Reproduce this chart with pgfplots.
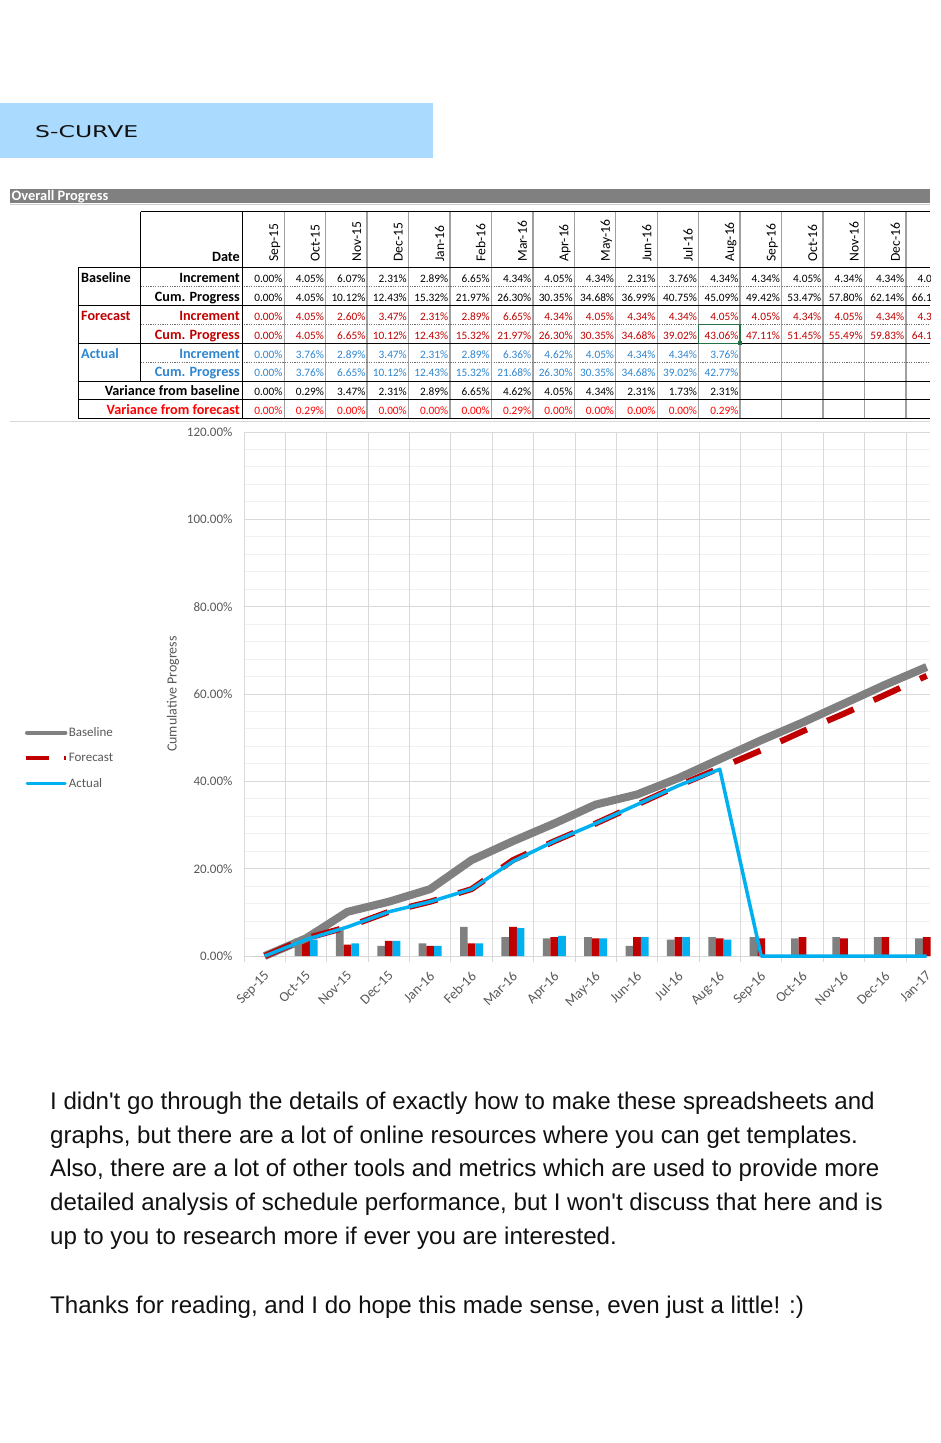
\documentclass[border=0pt]{standalone}
\usepackage{fontspec}
\usepackage{graphicx}
\usepackage{pgfplots}
\usepackage{pgfplotstable}
\pgfplotsset{compat=1.18}
\setmainfont{Carlito}
\newfontfamily\parafont{Liberation Sans}
\newfontfamily\titlefont{DejaVu Sans}
\definecolor{cHead}{HTML}{AADAFD}
\definecolor{cBar}{HTML}{808080}
\definecolor{cBarLine}{HTML}{CFCFCF}
\definecolor{cCol}{HTML}{A0A0A0}
\definecolor{cDot}{HTML}{707070}
\definecolor{cFc}{HTML}{C00000}
\definecolor{cAc}{HTML}{2E86D0}
\definecolor{cVf}{HTML}{FF0000}
\definecolor{cSel}{HTML}{217346}
\definecolor{cGray}{HTML}{808080}
\definecolor{cRed}{HTML}{C00000}
\definecolor{cBlue}{HTML}{00B0F0}
\definecolor{cD9}{HTML}{D9D9D9}
\definecolor{cF2}{HTML}{F0F0F0}
\definecolor{c59}{HTML}{595959}
\definecolor{cTxt}{HTML}{111111}

\pgfplotstableread{
idx binc bcum finc fcum
0 0.00 0.00 0.00 0.00
1 4.05 4.05 4.05 4.05
2 6.07 10.12 2.60 6.65
3 2.31 12.43 3.47 10.12
4 2.89 15.32 2.31 12.43
5 6.65 21.97 2.89 15.32
6 4.34 26.30 6.65 21.97
7 4.05 30.35 4.34 26.30
8 4.34 34.68 4.05 30.35
9 2.31 36.99 4.34 34.68
10 3.76 40.75 4.34 39.02
11 4.34 45.09 4.05 43.06
12 4.34 49.42 4.05 47.11
13 4.05 53.47 4.34 51.45
14 4.34 57.80 4.05 55.49
15 4.34 62.14 4.34 59.83
16 4.05 66.19 4.34 64.17
}\plantable

\pgfplotstableread{
idx ainc acum
0 0.00 0.00
1 3.76 3.76
2 2.89 6.65
3 3.47 10.12
4 2.31 12.43
5 2.89 15.32
6 6.36 21.68
7 4.62 26.30
8 4.05 30.35
9 4.34 34.68
10 4.34 39.02
11 3.76 42.77
12 nan 0
13 nan 0
14 nan 0
15 nan 0
16 nan 0
}\actualtable

\newcommand\dfont{\fontsize{11.3}{11.3}\selectfont}
\newcommand\lfont{\bfseries\fontsize{14.2}{14.2}\selectfont}

\begin{document}
\begin{tikzpicture}[x=1pt,y=1pt]
\useasboundingbox (0,0) rectangle (940,-1443);
\fill[white] (0,0) rectangle (940,-1443);

% header box
\fill[cHead] (0,-103) rectangle (433,-158);
\node[anchor=base west, inner sep=0, text=cTxt] at (35,-137.7) {\resizebox{103pt}{12pt}{\titlefont S-CURVE}};

\begin{scope}
\clip (0,0) rectangle (930,-1443);
% title bar
\fill[cBar] (10,-189) rectangle (930,-203.3);
\draw[cBarLine, line width=1.2] (10,-204.6) -- (930,-204.6);
\node[anchor=base west, inner sep=0, text=white, font=\bfseries\fontsize{14.4}{14.4}\selectfont] at (11.5,-200) {Overall Progress};

% column lines
\foreach \k in {1,...,17}
  \draw[cCol, line width=1.3] ({242.7+41.45*\k},-211.7) -- ({242.7+41.45*\k},-418.4);
% dotted lines
\foreach \yy in {286.3,324.3,362.3}
  \draw[cDot, line width=0.8, dash pattern=on 1.2pt off 1.2pt] (140.7,-\yy) -- (930,-\yy);
% solid lines
\draw[black, line width=1] (140.7,-211.7) -- (930,-211.7);
\draw[black, line width=1.6] (78.3,-267.3) -- (930,-267.3);
\foreach \yy in {305.3,343.3,381.0,399.7,418.4}
  \draw[black, line width=1] (78.3,-\yy) -- (930,-\yy);
\draw[black, line width=1] (140.7,-211.7) -- (140.7,-381.0);
\draw[black, line width=1] (78.3,-267.3) -- (78.3,-418.4);
\draw[black, line width=1] (242.7,-211.7) -- (242.7,-418.4);

% labels
\node[anchor=base east, inner sep=0, font=\lfont] at (240,-261.7) {Date};
\node[anchor=base west, inner sep=0, font=\lfont] at (81,-282.0) {Baseline};
\node[anchor=base west, inner sep=0, font=\lfont, text=cFc] at (81,-320.0) {Forecast};
\node[anchor=base west, inner sep=0, font=\lfont, text=cAc] at (81,-358.0) {Actual};
\node[anchor=base east, inner sep=0, font=\lfont] at (240,-282.0) {Increment};
\node[anchor=base east, inner sep=0, font=\lfont] at (240,-301.0) {Cum. Progress};
\node[anchor=base east, inner sep=0, font=\lfont, text=cFc] at (240,-320.0) {Increment};
\node[anchor=base east, inner sep=0, font=\lfont, text=cFc] at (240,-339.0) {Cum. Progress};
\node[anchor=base east, inner sep=0, font=\lfont, text=cAc] at (240,-358.0) {Increment};
\node[anchor=base east, inner sep=0, font=\lfont, text=cAc] at (240,-376.7) {Cum. Progress};
\node[anchor=base east, inner sep=0, font=\lfont] at (240,-395.4) {Variance from baseline};
\node[anchor=base east, inner sep=0, font=\lfont, text=cVf] at (240,-414.1) {Variance from forecast};

% header dates
\foreach \d [count=\k from 0] in {Sep-15,Oct-15,Nov-15,Dec-15,Jan-16,Feb-16,Mar-16,Apr-16,May-16,Jun-16,Jul-16,Aug-16,Sep-16,Oct-16,Nov-16,Dec-16}
  \node[anchor=base west, inner sep=0, rotate=90, font=\fontsize{13.6}{13.6}\selectfont] at ({242.7+41.45*\k+35.5},-261.7) {\d};

% data rows
\foreach \v [count=\k from 1] in {0.00,4.05,6.07,2.31,2.89,6.65,4.34,4.05,4.34,2.31,3.76,4.34,4.34,4.05,4.34,4.34,4.05}
  \node[anchor=base east, inner sep=0, font=\dfont] at ({242.7+41.45*\k-1.5},-282.0) {\v\%};
\foreach \v [count=\k from 1] in {0.00,4.05,10.12,12.43,15.32,21.97,26.30,30.35,34.68,36.99,40.75,45.09,49.42,53.47,57.80,62.14,66.19}
  \node[anchor=base east, inner sep=0, font=\dfont] at ({242.7+41.45*\k-1.5},-301.0) {\v\%};
\foreach \v [count=\k from 1] in {0.00,4.05,2.60,3.47,2.31,2.89,6.65,4.34,4.05,4.34,4.34,4.05,4.05,4.34,4.05,4.34,4.34}
  \node[anchor=base east, inner sep=0, font=\dfont, text=cFc] at ({242.7+41.45*\k-1.5},-320.0) {\v\%};
\foreach \v [count=\k from 1] in {0.00,4.05,6.65,10.12,12.43,15.32,21.97,26.30,30.35,34.68,39.02,43.06,47.11,51.45,55.49,59.83,64.17}
  \node[anchor=base east, inner sep=0, font=\dfont, text=cFc] at ({242.7+41.45*\k-1.5},-339.0) {\v\%};
\foreach \v [count=\k from 1] in {0.00,3.76,2.89,3.47,2.31,2.89,6.36,4.62,4.05,4.34,4.34,3.76}
  \node[anchor=base east, inner sep=0, font=\dfont, text=cAc] at ({242.7+41.45*\k-1.5},-358.0) {\v\%};
\foreach \v [count=\k from 1] in {0.00,3.76,6.65,10.12,12.43,15.32,21.68,26.30,30.35,34.68,39.02,42.77}
  \node[anchor=base east, inner sep=0, font=\dfont, text=cAc] at ({242.7+41.45*\k-1.5},-376.7) {\v\%};
\foreach \v [count=\k from 1] in {0.00,0.29,3.47,2.31,2.89,6.65,4.62,4.05,4.34,2.31,1.73,2.31}
  \node[anchor=base east, inner sep=0, font=\dfont] at ({242.7+41.45*\k-1.5},-395.4) {\v\%};
\foreach \v [count=\k from 1] in {0.00,0.29,0.00,0.00,0.00,0.00,0.29,0.00,0.00,0.00,0.00,0.29}
  \node[anchor=base east, inner sep=0, font=\dfont, text=cVf] at ({242.7+41.45*\k-1.5},-414.1) {\v\%};

% selection box
\draw[cSel, line width=1.4] (698.65,-324.3) rectangle (740.1,-343.3);
\fill[cSel] (738.1,-341.3) rectangle (742.1,-345.3);

% separator above chart
\draw[cD9, line width=1] (10,-421) -- (930,-421);
\end{scope}

% chart
\begin{axis}[
  at={(244pt,-956pt)}, anchor=south west,
  width=686pt, height=524pt, scale only axis,
  xmin=-0.5, xmax=16.08, ymin=0, ymax=120,
  clip=false,
  axis line style={draw=none},
  major tick length=0pt, minor tick length=0pt,
  xtick={0,...,16},
  xticklabels={Sep-15,Oct-15,Nov-15,Dec-15,Jan-16,Feb-16,Mar-16,Apr-16,May-16,Jun-16,Jul-16,Aug-16,Sep-16,Oct-16,Nov-16,Dec-16,Jan-17},
  xtick pos=bottom, ytick pos=left,
  extra x ticks={-0.5,0.5,...,15.5},
  extra x tick labels={},
  extra x tick style={grid=major, major tick length=6pt, tick align=outside, tick style={draw=cD9, line width=1pt}},
  ytick={0,20,...,120},
  yticklabels={0.00\%,20.00\%,40.00\%,60.00\%,80.00\%,100.00\%,120.00\%},
  minor y tick num=4,
  ymajorgrids, yminorgrids,
  major grid style={draw=cD9, line width=1pt},
  minor grid style={draw=cF2, line width=1pt},
  tick label style={font=\fontsize{13}{13}\selectfont, text=c59},
  yticklabel style={anchor=east, xshift=-8pt},
  xticklabel style={rotate=45, anchor=north east, inner sep=1pt, xshift=-10pt, yshift=-8pt, font=\fontsize{14}{14}\selectfont},
  ylabel={Cumulative Progress},
  ylabel style={at={(axis description cs:-0.1035,0.5)}, anchor=center, font=\fontsize{14}{14}\selectfont, text=c59},
  legend style={at={(axis description cs:-0.3207,0.4375)}, anchor=north west, draw=none, fill=none, inner sep=0pt, font=\fontsize{13}{13}\selectfont, text=c59, row sep=14pt, nodes={inner sep=0.6pt}},
  legend cell align=left,
  legend image code/.code={\draw[#1] (0pt,0pt) -- (40pt,0pt);},
]
\addplot[ybar, bar width=7.7pt, bar shift=-7.7pt, fill=cGray, draw=none, forget plot] table[x=idx,y=binc]{\plantable};
\addplot[ybar, bar width=7.7pt, bar shift=0pt, fill=cRed, draw=none, forget plot] table[x=idx,y=finc]{\plantable};
\addplot[ybar, bar width=7.7pt, bar shift=7.7pt, fill=cBlue, draw=none, forget plot] table[x=idx,y=ainc]{\actualtable};
\addplot[cGray, line width=8pt, line join=round, mark=none,
  legend image code/.code={\draw[cGray, line width=4.5pt, line cap=round] (1pt,0pt) -- (39pt,0pt);}] table[x=idx,y=bcum]{\plantable};
\addplot[cRed, line width=6pt, line join=round, mark=none, dash pattern=on 29pt off 22pt,
  legend image code/.code={\draw[cRed, line width=4pt, dash pattern=on 23pt off 15pt] (0pt,0pt) -- (40pt,0pt);}] table[x=idx,y=fcum]{\plantable};
\addplot[cBlue, line width=3.5pt, line join=round, mark=none,
  legend image code/.code={\draw[cBlue, line width=3pt, line cap=round] (1pt,0pt) -- (39pt,0pt);}] table[x=idx,y=acum]{\actualtable};
\legend{Baseline,Forecast,Actual}
\end{axis}

% paragraph text
\begin{scope}[every node/.style={anchor=base west, inner sep=0, text=cTxt, font=\parafont\fontsize{24.1}{24.1}\selectfont}]
\node at (50,-1109.3) {I didn't go through the details of exactly how to make these spreadsheets and};
\node at (50,-1143.0) {graphs, but there are a lot of online resources where you can get templates.};
\node at (50,-1176.7) {Also, there are a lot of other tools and metrics which are used to provide more};
\node at (50,-1210.4) {detailed analysis of schedule performance, but I won't discuss that here and is};
\node at (50,-1244.1) {up to you to research more if ever you are interested.};
\node at (50,-1313.3) {Thanks for reading, and I do hope this made sense, even just a little! :)};
\end{scope}
\end{tikzpicture}
\end{document}
